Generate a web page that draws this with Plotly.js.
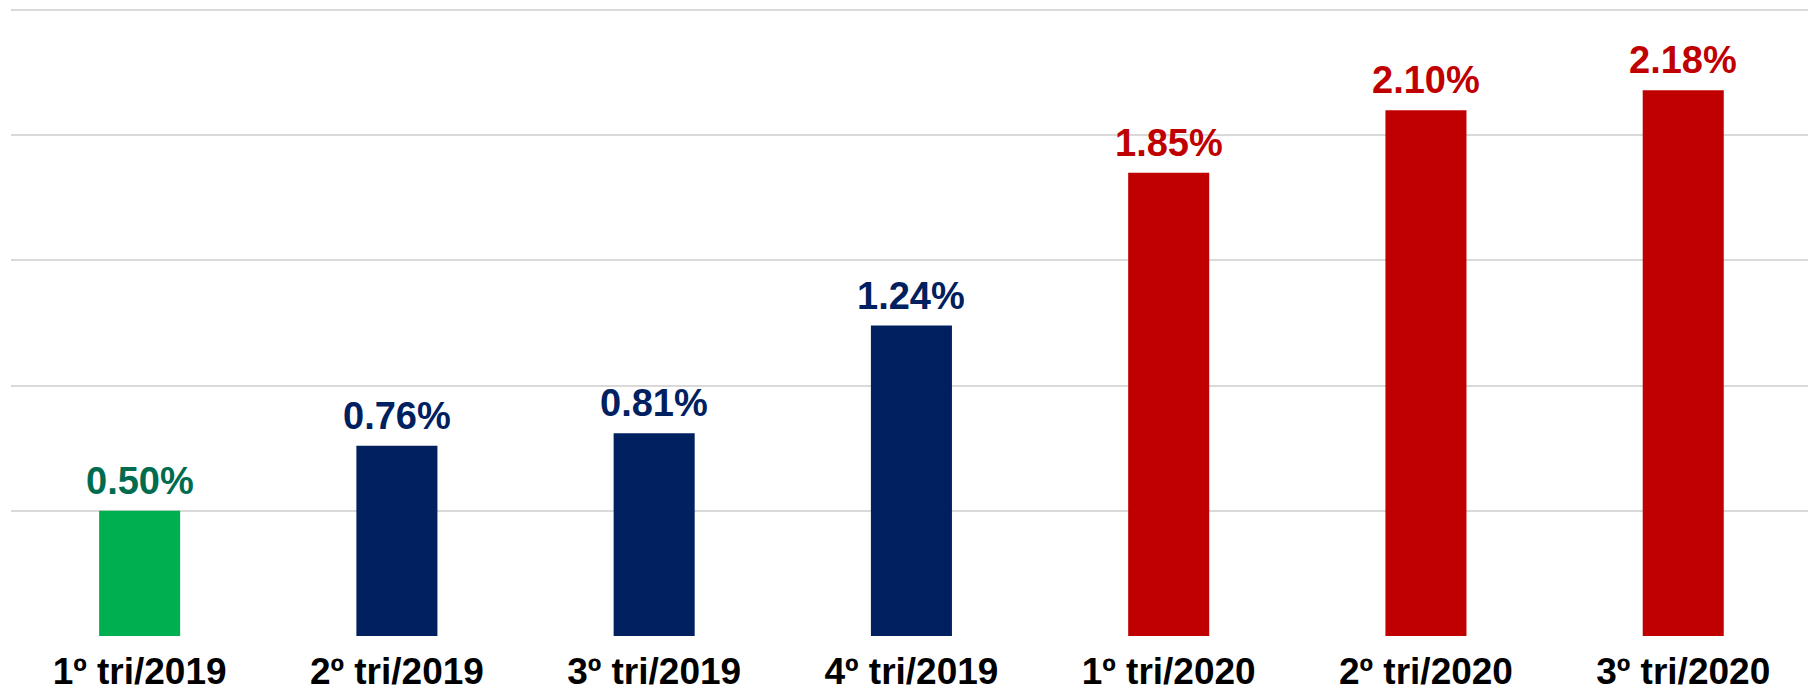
<!DOCTYPE html>
<html>
<head>
<meta charset="utf-8">
<script src="https://cdn.plot.ly/plotly-3.0.1.min.js"></script>
<style>html,body{margin:0;padding:0;background:#fff;}#chart{width:1808px;height:697px;}</style>
</head>
<body>
<div id="chart"></div>
<script>
var categories = ["1º tri/2019", "2º tri/2019", "3º tri/2019", "4º tri/2019", "1º tri/2020", "2º tri/2020", "3º tri/2020"];
var values = [0.50, 0.76, 0.81, 1.24, 1.85, 2.10, 2.18];
var barColors = ["#00B050", "#002060", "#002060", "#002060", "#C00000", "#C00000", "#C00000"];
var labelColors = ["#006C4F", "#002060", "#002060", "#002060", "#C00000", "#C00000", "#C00000"];
var yTicks = [0, 0.5, 1, 1.5, 2, 2.5];

var FONT = "Arial, 'Liberation Sans', sans-serif";

var trace = {
  type: "bar",
  x: categories,
  y: values,
  width: 0.315,
  marker: {color: barColors, line: {width: 0}},
  hoverinfo: "none"
};

var annotations = categories.map(function (c, i) {
  return {
    x: c, y: values[i], xref: "x", yref: "y",
    text: values[i].toFixed(2) + "%",
    showarrow: false, yanchor: "bottom", xanchor: "center",
    yshift: 7,
    font: {family: FONT, size: 38, color: labelColors[i], weight: "bold"}
  };
});

var layout = {
  width: 1808, height: 697,
  margin: {l: 11, r: 0, t: 8, b: 61, pad: 0},
  paper_bgcolor: "#ffffff", plot_bgcolor: "#ffffff",
  showlegend: false,
  xaxis: {
    type: "category",
    range: [-0.5, 6.485],
    showgrid: false, zeroline: false, showline: false,
    ticks: "", ticklabelstandoff: 10,
    tickfont: {family: FONT, size: 37, color: "#000000", weight: "bold"}
  },
  yaxis: {
    range: [0, 2.508],
    tickvals: yTicks,
    showticklabels: false,
    showgrid: true, gridcolor: "#D9D9D9", gridwidth: 2,
    zeroline: false, showline: false, ticks: ""
  },
  annotations: annotations
};

Plotly.newPlot("chart", [trace], layout, {staticPlot: true, displayModeBar: false});
</script>
</body>
</html>
